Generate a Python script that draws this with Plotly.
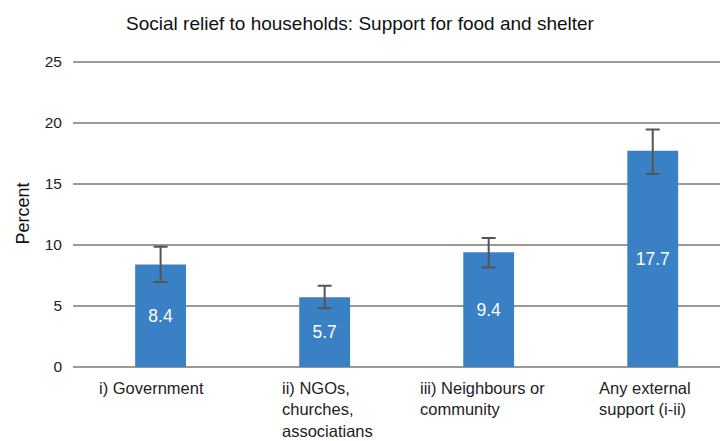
import plotly.graph_objects as go

categories = ["i) Government", "ii) NGOs, churches, associatians",
              "iii) Neighbours or community", "Any external support (i-ii)"]
tick_labels = ["i) Government", "ii) NGOs,<br>churches,<br>associatians",
               "iii) Neighbours or<br>community", "Any external<br>support (i-ii)"]
values = [8.4, 5.7, 9.4, 17.7]
err_plus = [1.45, 0.95, 1.15, 1.75]
err_minus = [1.45, 0.9, 1.25, 1.9]
label_shift = [-9, 3, -6, -8]

FONT = "Liberation Sans, Arial, Helvetica, sans-serif"

fig = go.Figure()
fig.add_trace(go.Bar(
    x=categories, y=values,
    marker=dict(color="#3A80C5", line=dict(width=0)),
    width=0.31,
    text=[f"{v:.1f}" for v in values],
    textposition="inside", insidetextanchor="middle",
    textfont=dict(color="white", size=17.5, family=FONT),
    error_y=dict(type="data", symmetric=False, array=err_plus, arrayminus=err_minus,
                 color="#555555", thickness=2, width=7),
    hoverinfo="skip",
))

for cat, lab, sh in zip(categories, tick_labels, label_shift):
    fig.add_annotation(x=cat, y=0, xref="x", yref="y", text=lab,
                       showarrow=False, xanchor="center", yanchor="top",
                       align="left", yshift=-10, xshift=sh,
                       font=dict(size=16.5, color="#222222", family=FONT))

fig.update_layout(
    width=720, height=441,
    margin=dict(l=73, r=0, t=60, b=74),
    plot_bgcolor="white", paper_bgcolor="white",
    showlegend=False,
    title=dict(text="Social relief to households: Support for food and shelter",
               x=0.5, xanchor="center", y=0.948, yanchor="middle",
               font=dict(size=19, color="#111111", family=FONT)),
    xaxis=dict(type="category", range=[-0.534, 3.41], showticklabels=False,
               showgrid=False, zeroline=False, showline=False, ticks="",
               automargin=False),
    yaxis=dict(range=[0, 25.13], tickvals=[0, 5, 10, 15, 20, 25],
               showgrid=True, gridcolor="#999999", gridwidth=1.5,
               zeroline=True, zerolinecolor="#999999", zerolinewidth=1.5,
               showline=False, ticks="", ticklabelstandoff=10,
               automargin=False,
               tickfont=dict(size=15.5, color="#222222", family=FONT),
               title=dict(text="Percent", standoff=10,
                          font=dict(size=18, color="#111111", family=FONT))),
    font=dict(family=FONT),
)

fig.write_html("out.html", config={"displayModeBar": False},
               post_script="document.body.style.margin='0';")
